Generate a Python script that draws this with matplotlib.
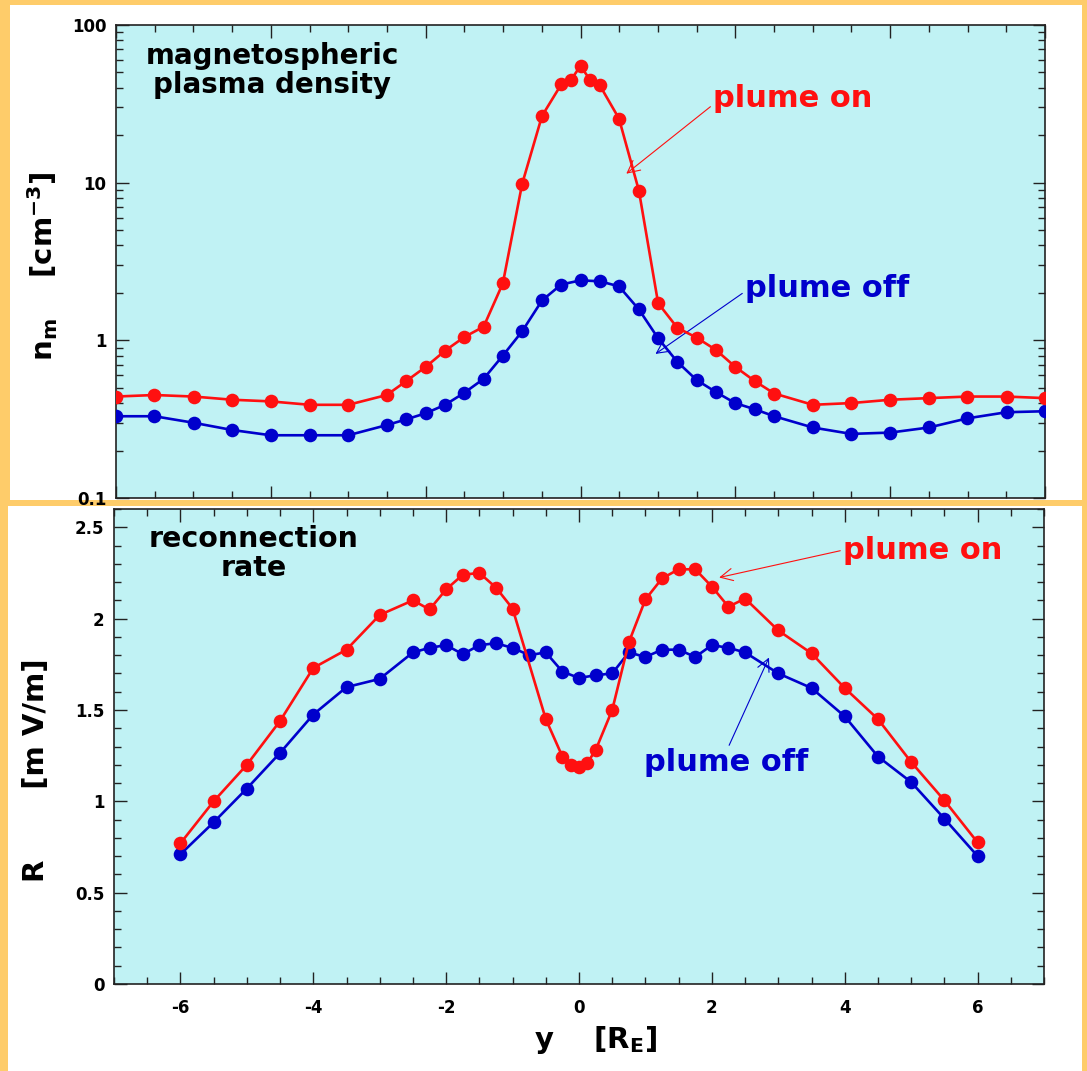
import matplotlib.pyplot as plt
from matplotlib.patches import Rectangle
from matplotlib.ticker import MultipleLocator, LogLocator, NullFormatter

# --- data ---
# top panel: magnetospheric plasma density (cm^-3)
y_dens_off = [-7, -6.42, -5.83, -5.25, -4.67, -4.08, -3.5,
              -2.92, -2.63, -2.33, -2.04, -1.75, -1.46, -1.17, -0.88, -0.58, -0.29, 0,
              0.29, 0.58, 0.88, 1.17, 1.46, 1.75, 2.04, 2.33, 2.63, 2.92,
              3.5, 4.08, 4.67, 5.25, 5.83, 6.42, 7]
n_off = [0.33, 0.33, 0.30, 0.27, 0.25, 0.25, 0.25,
         0.29, 0.315, 0.345, 0.39, 0.465, 0.57, 0.80, 1.14, 1.79, 2.26, 2.40,
         2.37, 2.2, 1.57, 1.03, 0.73, 0.56, 0.47, 0.40, 0.365, 0.33,
         0.28, 0.255, 0.26, 0.28, 0.32, 0.35, 0.355]

y_dens_on = [-7, -6.42, -5.83, -5.25, -4.67, -4.08, -3.5,
             -2.92, -2.63, -2.33, -2.04, -1.75, -1.46, -1.17, -0.88, -0.58, -0.29, -0.15, 0,
             0.15, 0.29, 0.58, 0.88, 1.17, 1.46, 1.75, 2.04, 2.33, 2.63, 2.92,
             3.5, 4.08, 4.67, 5.25, 5.83, 6.42, 7]
n_on = [0.44, 0.45, 0.44, 0.42, 0.41, 0.39, 0.39,
        0.45, 0.55, 0.68, 0.86, 1.05, 1.22, 2.3, 9.8, 26.5, 42, 44.5, 55,
        44.5, 41.5, 25.5, 8.9, 1.72, 1.20, 1.04, 0.87, 0.68, 0.55, 0.46,
        0.39, 0.40, 0.42, 0.43, 0.44, 0.44, 0.43]

# bottom panel: reconnection rate (mV/m)
y_rate_off = [-6, -5.5, -5, -4.5, -4, -3.5, -3, -2.5,
              -2.25, -2, -1.75, -1.5, -1.25, -1, -0.75, -0.5, -0.25, 0,
              0.25, 0.5, 0.75, 1, 1.25, 1.5, 1.75, 2, 2.25,
              2.5, 3, 3.5, 4, 4.5, 5, 5.5, 6]
R_off = [0.71, 0.885, 1.07, 1.265, 1.475, 1.625, 1.67, 1.815,
         1.84, 1.855, 1.805, 1.855, 1.865, 1.84, 1.80, 1.815, 1.71, 1.675,
         1.69, 1.70, 1.815, 1.79, 1.83, 1.83, 1.79, 1.855, 1.84,
         1.815, 1.70, 1.62, 1.465, 1.245, 1.105, 0.905, 0.70]

y_rate_on = [-6, -5.5, -5, -4.5, -4, -3.5, -3, -2.5,
             -2.25, -2, -1.75, -1.5, -1.25, -1, -0.5, -0.25, -0.125, 0,
             0.125, 0.25, 0.5, 0.75, 1, 1.25, 1.5, 1.75, 2, 2.25,
             2.5, 3, 3.5, 4, 4.5, 5, 5.5, 6]
R_on = [0.77, 1.00, 1.20, 1.44, 1.73, 1.83, 2.02, 2.10,
        2.05, 2.16, 2.24, 2.25, 2.17, 2.055, 1.45, 1.245, 1.20, 1.19,
        1.21, 1.28, 1.50, 1.87, 2.105, 2.22, 2.27, 2.27, 2.175, 2.065,
        2.11, 1.935, 1.81, 1.62, 1.45, 1.215, 1.005, 0.775]

# --- style ---
orange = '#FECC6A'
cyan = '#C0F2F4'
red = '#FF1010'
blue = '#0000CC'

plt.rcParams['font.family'] = 'DejaVu Sans'
plt.rcParams['font.weight'] = 'bold'
plt.rcParams['axes.unicode_minus'] = False
plt.rcParams['mathtext.fontset'] = 'custom'
plt.rcParams['mathtext.rm'] = 'DejaVu Sans:bold'
plt.rcParams['mathtext.it'] = 'DejaVu Sans:bold'
plt.rcParams['mathtext.bf'] = 'DejaVu Sans:bold'

W, H = 1087, 1071
fig = plt.figure(figsize=(W / 100, H / 100), dpi=100, facecolor=orange)

# white frames of the two pictures (behind the axes)
fig.patches.append(Rectangle((10 / W, 1 - 500 / H), 1072 / W, 495 / H,
                             transform=fig.transFigure, facecolor='white', edgecolor='none', zorder=-10))
fig.patches.append(Rectangle((8 / W, 0), 1074 / W, 1 - 506 / H,
                             transform=fig.transFigure, facecolor='white', edgecolor='none', zorder=-10))

ax1 = fig.add_axes([116 / W, 1 - 498 / H, 929 / W, 473 / H])
ax2 = fig.add_axes([114 / W, 1 - 984 / H, 930 / W, 475 / H])

line_kw = dict(lw=1.9, marker='o', markersize=9.8, markeredgewidth=0)

for ax in (ax1, ax2):
    ax.set_facecolor(cyan)
    for s in ax.spines.values():
        s.set_linewidth(1.2)
        s.set_color('#222222')
    ax.tick_params(which='both', direction='in', top=True, right=True,
                   labelsize=12, width=1.0, color='#222222')
    ax.tick_params(which='major', length=9, pad=7)
    ax.tick_params(which='minor', length=5)
    ax.set_xlim(-7, 7)

# top panel
ax1.plot(y_dens_off, n_off, color=blue, zorder=3, **line_kw)
ax1.plot(y_dens_on, n_on, color=red, zorder=4, **line_kw)
ax1.set_yscale('log')
ax1.set_ylim(0.1, 100)
ax1.yaxis.set_minor_locator(LogLocator(base=10, subs=range(2, 10), numticks=20))
ax1.yaxis.set_minor_formatter(NullFormatter())
ax1.set_yticks([0.1, 1, 10, 100])
ax1.set_yticklabels(['0.1', '1', '10', '100'])
ax1.xaxis.set_major_locator(MultipleLocator(7 / 3))
ax1.xaxis.set_minor_locator(MultipleLocator(7 / 12))
ax1.tick_params(axis='x', labelbottom=False)
ax1.set_ylabel(r'n$_\mathrm{m}$    [cm$^\mathrm{-3}$]', fontsize=21, fontweight='bold')
ax1.yaxis.set_label_coords(-0.060, 0.49)

ax1.text(0.168, 0.903, 'magnetospheric\nplasma density', transform=ax1.transAxes,
         ha='center', va='center', fontsize=20, fontweight='bold', linespacing=1.05)
ax1.annotate('plume on', xy=(0.69, 11.4), xytext=(2.0, 34.1), color=red,
             fontsize=22, fontweight='bold', va='center', ha='left',
             arrowprops=dict(arrowstyle='->', color=red, lw=0.8, shrinkA=0, shrinkB=0,
                             relpos=(0, 0.3)))
ax1.annotate('plume off', xy=(1.13, 0.82), xytext=(2.48, 2.13), color=blue,
             fontsize=22, fontweight='bold', va='center', ha='left',
             arrowprops=dict(arrowstyle='->', color=blue, lw=0.8, shrinkA=0, shrinkB=0,
                             relpos=(0, 0.4)))

# bottom panel
ax2.plot(y_rate_off, R_off, color=blue, zorder=3, **line_kw)
ax2.plot(y_rate_on, R_on, color=red, zorder=4, **line_kw)
ax2.set_ylim(0, 2.6)
ax2.yaxis.set_minor_locator(MultipleLocator(0.1))
ax2.set_yticks([0, 0.5, 1, 1.5, 2, 2.5])
ax2.set_yticklabels(['0', '0.5', '1', '1.5', '2', '2.5'])
ax2.xaxis.set_major_locator(MultipleLocator(2))
ax2.xaxis.set_minor_locator(MultipleLocator(0.5))
ax2.tick_params(axis='x', which='major', pad=11)
ax2.set_ylabel('R       [m V/m]', fontsize=21, fontweight='bold')
ax2.yaxis.set_label_coords(-0.069, 0.45)
ax2.set_xlabel(r'y    [R$_\mathrm{E}$]', fontsize=21, fontweight='bold')
ax2.xaxis.set_label_coords(0.518, -0.084)

ax2.text(0.1505, 0.906, 'reconnection\nrate', transform=ax2.transAxes,
         ha='center', va='center', fontsize=20.5, fontweight='bold', linespacing=1.05)
ax2.annotate('plume on', xy=(2.11, 2.225), xytext=(3.975, 2.375), color=red,
             fontsize=22, fontweight='bold', va='center', ha='left',
             arrowprops=dict(arrowstyle='->', color=red, lw=0.8, shrinkA=0, shrinkB=0,
                             relpos=(0, 0.5)))
ax2.annotate('plume off', xy=(2.86, 1.787), xytext=(0.975, 1.212), color=blue,
             fontsize=22, fontweight='bold', va='center', ha='left',
             arrowprops=dict(arrowstyle='->', color=blue, lw=0.8, shrinkA=0, shrinkB=0,
                             relpos=(0.5, 0.85)))

fig.savefig('out.png', dpi=100, facecolor=orange)
